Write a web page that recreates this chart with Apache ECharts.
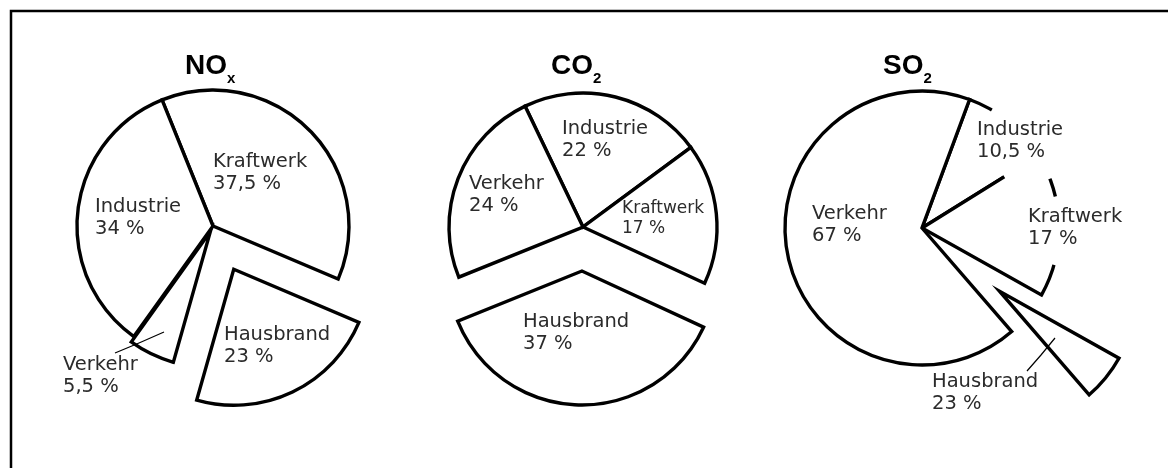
<!DOCTYPE html>
<html>
<head>
<meta charset="utf-8">
<title>Emissionen nach Verursachern</title>
<script src="https://cdn.jsdelivr.net/npm/echarts@6/dist/echarts.min.js"></script>
<style>
  html, body { margin: 0; padding: 0; background: #fff; }
  #chart { width: 1168px; height: 468px; }
</style>
</head>
<body>
<div id="chart"></div>
<script>
// Anteile der Verursacher in %, im Uhrzeigersinn ab der ersten Schnittkante
const noxNames = ['Kraftwerk', 'Hausbrand', 'Verkehr', 'Industrie']
const noxValues = [37.5, 23, 5.5, 34]

const co2Names = ['Industrie', 'Kraftwerk', 'Hausbrand', 'Verkehr']
const co2Values = [22, 17, 37, 24]

const so2Names = ['Industrie', 'Kraftwerk', 'Hausbrand', 'Verkehr']
const so2Values = [10.5, 17, 5.5, 67]   // so gezeichnet
const so2Printed = [10.5, 17, 23, 67]   // so beschriftet

// Lücken in der SO2-Umrisslinie, Grad ab 12 Uhr im Uhrzeigersinn
const so2Gaps = [[30.6, 68.9], [76.7, 105.6]]

const pies = [
    {
        title: ['NO', 'x'], titleLeft: 185,
        names: noxNames, values: noxValues, printed: noxValues,
        center: [213, 226], radius: 136, startAngle: 112,
        explode: [0, 48, 6, 0],
        labelAt: [[213, 151], [224, 324], [63, 354], [95, 196]],
        labelSize: {},
        leader: { 2: [[115, 353], [139, 343], [164, 332]] }
    },
    {
        title: ['CO', '2'], titleLeft: 551,
        names: co2Names, values: co2Values, printed: co2Values,
        center: [583, 227], radius: 134, startAngle: 115.6,
        explode: [0, 0, 44, 0],
        labelAt: [[562, 118], [622, 199], [523, 311], [469, 173]],
        labelSize: { 1: 17 },
        leader: {}
    },
    {
        title: ['SO', '2'], titleLeft: 883,
        names: so2Names, values: so2Values, printed: so2Printed,
        center: [922, 228], radius: 137, startAngle: 69.7,
        explode: [0, 0, 100, 0],
        labelAt: [[977, 119], [1028, 206], [932, 371], [812, 203]],
        labelSize: {},
        leader: { 2: [[1027, 371], [1041, 355], [1055, 338]] }
    }
]

function fmt(v) {
    return String(v).replace('.', ',') + ' %'
}

const clear = { color: 'rgba(0,0,0,0)', borderWidth: 0 }

// eine Serie je Explosionsabstand, damit jedes Segment seinen eigenen Versatz bekommt
function sliceSeries(p) {
    const levels = [...new Set(p.explode)]
    return levels.map(level => ({
        type: 'pie',
        center: p.center,
        radius: p.radius,
        startAngle: p.startAngle,
        selectedMode: 'multiple',
        selectedOffset: level,
        silent: true,
        z: 2,
        label: { show: false },
        labelLine: { show: false },
        emphasis: { disabled: true },
        data: p.names.map((name, i) => {
            const own = p.explode[i] === level
            return {
                name: name,
                value: p.values[i],
                selected: own && level > 0,
                itemStyle: own
                    ? { color: '#fff', borderColor: '#000', borderWidth: 3.4, borderJoin: 'miter' }
                    : clear
            }
        })
    }))
}

function labelSeries(p) {
    return {
        type: 'pie',
        center: p.center,
        radius: p.radius,
        startAngle: p.startAngle,
        silent: true,
        avoidLabelOverlap: false,
        z: 5,
        itemStyle: clear,
        emphasis: { disabled: true },
        label: {
            show: true,
            position: 'inside',
            color: '#2b2b2b',
            fontFamily: 'DejaVu Sans',
            fontSize: 19.5,
            lineHeight: 22,
            overflow: 'none',
            formatter: params => params.name + '\n' + fmt(p.printed[params.dataIndex])
        },
        labelLine: { show: false },
        data: p.names.map((name, i) => {
            const item = { name: name, value: p.values[i] }
            const size = p.labelSize[i]
            if (p.leader[i]) {
                item.label = { position: 'outside', overflow: 'none' }
                item.labelLine = { show: true, lineStyle: { color: '#000', width: 1.2 } }
            }
            if (size) {
                item.label = Object.assign(item.label || {}, { fontSize: size, lineHeight: size + 3 })
            }
            return item
        }),
        labelLayout: params => {
            const at = p.labelAt[params.dataIndex]
            const out = { x: at[0], y: at[1], align: 'left', verticalAlign: 'top' }
            if (p.leader[params.dataIndex]) {
                out.labelLinePoints = p.leader[params.dataIndex]
            }
            return out
        }
    }
}

// weiße Ringstücke, die Teile der Umrisslinie wieder ausblenden
function coverSeries(center, inner, outer, spans) {
    const data = []
    let pos = 0
    spans.forEach(s => {
        data.push({ value: s[0] - pos, itemStyle: clear })
        data.push({ value: s[1] - s[0], itemStyle: { color: '#fff', borderWidth: 0 } })
        pos = s[1]
    })
    data.push({ value: 360 - pos, itemStyle: clear })
    return {
        type: 'pie',
        center: center,
        radius: [inner, outer],
        startAngle: 90,
        silent: true,
        z: 3,
        label: { show: false },
        labelLine: { show: false },
        emphasis: { disabled: true },
        data: data
    }
}

const so2 = pies[2]
const so2Start = 90 - so2.startAngle
const so2Cut = so2Start + 360 * so2Values[0] / 100

const series = []
pies.forEach(p => series.push(...sliceSeries(p)))
series.push(coverSeries(so2.center, so2.radius - 5, so2.radius + 5, so2Gaps))
series.push(coverSeries(so2.center, 97, so2.radius + 5, [[so2Cut - 2, so2Cut + 2]]))
pies.forEach(p => series.push(labelSeries(p)))

const chart = echarts.init(document.getElementById('chart'))
chart.setOption({
    animation: false,
    backgroundColor: '#fff',
    title: pies.map(p => ({
        text: '{m|' + p.title[0] + '}{s|' + p.title[1] + '}',
        left: p.titleLeft,
        top: 52,
        padding: 0,
        textStyle: {
            rich: {
                m: {
                    fontFamily: 'Liberation Sans', fontWeight: 'bold', fontSize: 28,
                    lineHeight: 28, verticalAlign: 'top', color: '#000'
                },
                s: {
                    fontFamily: 'Liberation Sans', fontWeight: 'bold', fontSize: 15,
                    lineHeight: 34, verticalAlign: 'bottom', color: '#000'
                }
            }
        }
    })),
    graphic: [
        {
            type: 'rect',
            silent: true,
            shape: { x: 11, y: 11, width: 1400, height: 800 },
            style: { fill: 'none', stroke: '#000', lineWidth: 2.5 }
        }
    ],
    series: series
})
</script>
</body>
</html>
